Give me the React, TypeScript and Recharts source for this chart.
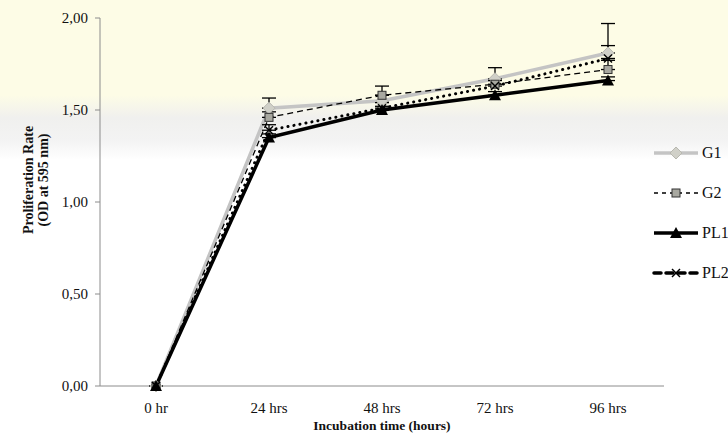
import React from 'react';
import { LineChart, Line, XAxis, YAxis, ErrorBar, Legend } from 'recharts';

const categories = ['0 hr', '24 hrs', '48 hrs', '72 hrs', '96 hrs'];
const g1 = [0, 1.51, 1.55, 1.67, 1.81];
const g2 = [0, 1.46, 1.58, 1.64, 1.72];
const pl1 = [0, 1.35, 1.5, 1.58, 1.66];
const pl2 = [0, 1.39, 1.51, 1.63, 1.78];
const g1Err = [[0, 0], [0, 0.055], [0, 0.03], [0, 0.06], [0, 0.16]];
const g2Err = [[0, 0], [0, 0.03], [0, 0.05], [0, 0.03], [0, 0.05]];
const pl1Err = [[0, 0], [0, 0.02], [0, 0.02], [0, 0.02], [0, 0.02]];
const pl2Err = [[0, 0], [0, 0.03], [0, 0.03], [0, 0.03], [0, 0.07]];
const yTicks = [0, 0.5, 1, 1.5, 2];
const seriesNames = ['G1', 'G2', 'PL1', 'PL2'];

const data = categories.map((c, i) => ({
  name: c,
  G1: g1[i],
  G2: g2[i],
  PL1: pl1[i],
  PL2: pl2[i],
  g1Err: g1Err[i],
  g2Err: g2Err[i],
  pl1Err: pl1Err[i],
  pl2Err: pl2Err[i],
}));

const FONT = '"Liberation Serif", "Times New Roman", serif';

const Diamond = ({ cx, cy }: any) => (
  <path d={`M${cx},${cy - 6} L${cx + 6},${cy} L${cx},${cy + 6} L${cx - 6},${cy} Z`} fill="#d0d0c8" stroke="#b8b8b0" strokeWidth={1} />
);
const Square = ({ cx, cy }: any) => (
  <rect x={cx - 4} y={cy - 4} width={8} height={8} fill="#a8a8a0" stroke="#333" strokeWidth={1} />
);
const Triangle = ({ cx, cy }: any) => (
  <path d={`M${cx},${cy - 6} L${cx + 6},${cy + 5} L${cx - 6},${cy + 5} Z`} fill="#000" />
);
const Cross = ({ cx, cy }: any) => (
  <g stroke="#000" strokeWidth={1.5}>
    <line x1={cx - 4} y1={cy - 4} x2={cx + 4} y2={cy + 4} />
    <line x1={cx - 4} y1={cy + 4} x2={cx + 4} y2={cy - 4} />
  </g>
);

const legendStyles: Record<string, any> = {
  G1: { stroke: '#c4c4c4', width: 3.5, dash: undefined, marker: Diamond },
  G2: { stroke: '#000', width: 1.3, dash: '4 4', marker: Square },
  PL1: { stroke: '#000', width: 3.5, dash: undefined, marker: Triangle },
  PL2: { stroke: '#000', width: 3.5, dash: '7 5', marker: Cross },
};

const CustomLegend = () => (
  <svg width={80} height={160}>
    {seriesNames.map((n, i) => {
      const s = legendStyles[n];
      const y = 13 + i * 40;
      const M = s.marker;
      return (
        <g key={n}>
          <line x1={4} x2={48} y1={y} y2={y} stroke={s.stroke} strokeWidth={s.width} strokeDasharray={s.dash} strokeLinecap={n === 'PL2' ? 'round' : 'butt'} />
          <M cx={26} cy={y} />
          <text x={52} y={y + 5} fontFamily={FONT} fontSize={16} fill="#111">{n}</text>
        </g>
      );
    })}
  </svg>
);

const YLabel = ({ viewBox }: any) => {
  const cy = viewBox.y + viewBox.height / 2 - 22;
  return (
    <g>
      <text transform={`translate(33, ${cy}) rotate(-90)`} textAnchor="middle" fontFamily={FONT} fontWeight="bold" fontSize={14} fill="#111">
        Proliferation Rate
      </text>
      <text transform={`translate(48, ${cy}) rotate(-90)`} textAnchor="middle" fontFamily={FONT} fontWeight="bold" fontSize={14} fill="#111">
        (OD at 595 nm)
      </text>
    </g>
  );
};

export default function App() {
  return (
    <div
      style={{
        position: 'absolute',
        left: 0,
        top: 0,
        width: 728,
        height: 434,
        background: 'linear-gradient(to bottom, #fdfce6 0px, #fdfce6 95px, #f0f0ee 118px, #f3f3f3 140px, #ffffff 160px, #ffffff 100%)',
      }}
    >
      <LineChart width={728} height={434} data={data} margin={{ top: 18, right: 64, bottom: 18, left: 40 }}>
        <XAxis
          dataKey="name"
          padding={{ left: 56, right: 56 }}
          axisLine={{ stroke: '#8c8c8c' }}
          tickLine={false}
          tick={{ fontFamily: FONT, fontSize: 15, fill: '#111' }}
          tickMargin={10}
          height={30}
          label={{ value: 'Incubation time (hours)', position: 'insideBottom', offset: -14, fontFamily: FONT, fontWeight: 'bold', fontSize: 13.5, fill: '#111' }}
        />
        <YAxis
          width={60}
          domain={[0, 2]}
          ticks={yTicks}
          interval={0}
          axisLine={{ stroke: '#8c8c8c' }}
          tickLine={{ stroke: '#8c8c8c' }}
          tickSize={5}
          tickMargin={7}
          tickFormatter={(v: number) => v.toFixed(2).replace('.', ',')}
          tick={{ fontFamily: FONT, fontSize: 15, fill: '#111' }}
          label={{ content: YLabel }}
        />
        <Legend
          layout="vertical"
          align="center"
          verticalAlign="middle"
          content={CustomLegend}
          wrapperStyle={{ left: 650, top: 140, width: 80 }}
        />
        <Line dataKey="G1" stroke="#c4c4c4" strokeWidth={3.5} dot={Diamond} isAnimationActive={false}>
          <ErrorBar dataKey="g1Err" direction="y" width={7} stroke="#000" strokeWidth={1.3} />
        </Line>
        <Line dataKey="G2" stroke="#000" strokeWidth={1.3} strokeDasharray="6 4" dot={Square} isAnimationActive={false}>
          <ErrorBar dataKey="g2Err" direction="y" width={7} stroke="#000" strokeWidth={1.3} />
        </Line>
        <Line dataKey="PL1" stroke="#000" strokeWidth={3.5} dot={Triangle} isAnimationActive={false}>
          <ErrorBar dataKey="pl1Err" direction="y" width={7} stroke="#000" strokeWidth={1.3} />
        </Line>
        <Line dataKey="PL2" stroke="#000" strokeWidth={3} strokeDasharray="0.1 6" strokeLinecap="round" dot={Cross} isAnimationActive={false}>
          <ErrorBar dataKey="pl2Err" direction="y" width={7} stroke="#000" strokeWidth={1.3} />
        </Line>
      </LineChart>
    </div>
  );
}
